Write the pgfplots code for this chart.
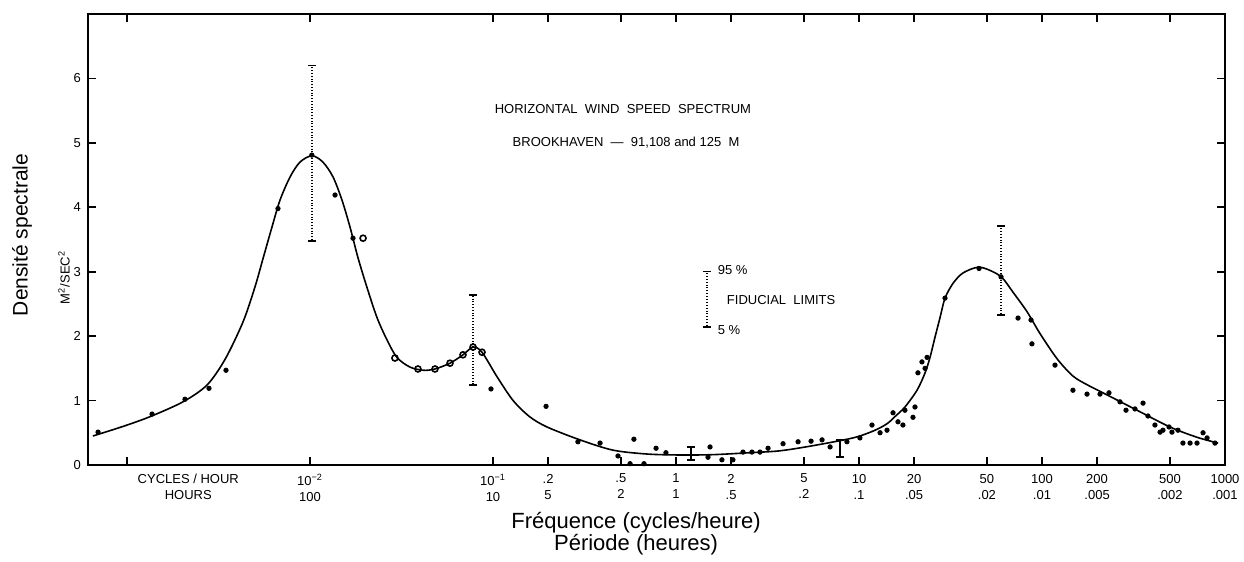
\documentclass[border=0pt]{standalone}
\usepackage{fontspec}
\setmainfont{Liberation Sans}
\usepackage{pgfplots}
\pgfplotsset{compat=1.18}

% x is log10 of the frequency in cycles/hour
\begin{document}
\begin{tikzpicture}
\begin{axis}[
  name=main,
  scale only axis, width=568.5pt, height=225.5pt,
  xmin=-3.213, xmax=3.0, ymin=0, ymax=7,
  axis line style={line width=1.1pt},
  tick style={black, line width=0.8pt},
  tick align=inside, major tick length=4pt,
  xtick={-3,-2,-1,-0.699,-0.301,0,0.301,0.699,1,1.301,1.699,2,2.301,2.699,3},
  xticklabels={{},{10\textsuperscript{−2}\\100},{10\textsuperscript{−1}\\10},{.2\\5},{.5\\2},{1\\1},{2\\.5},{5\\.2},{10\\.1},{20\\.05},{50\\.02},{100\\.01},{200\\.005},{500\\.002},{1000\\.001}},
  xticklabel style={align=center, font=\fontsize{6.5}{8}\selectfont, yshift=-1pt},
  extra x ticks={-2.665},
  extra x tick labels={{CYCLES / HOUR\\HOURS}},
  extra x tick style={major tick length=0pt},
  ytick={0,...,6},
  yticklabel style={font=\fontsize{6.5}{7.5}\selectfont},
  /pgf/number format/assume math mode=true,
  clip=false,
]

% fitted curve
\addplot[black, line width=0.8pt, smooth, tension=0.5] coordinates {
  (-3.186,0.45) (-3.02,0.60) (-2.874,0.75) (-2.694,0.98) (-2.563,1.24)
  (-2.464,1.64) (-2.366,2.22) (-2.301,2.76) (-2.257,3.20) (-2.208,3.69)
  (-2.164,4.11) (-2.109,4.47) (-2.055,4.70) (-1.989,4.80) (-1.929,4.70)
  (-1.874,4.47) (-1.825,4.11) (-1.781,3.69) (-1.738,3.22) (-1.689,2.76)
  (-1.634,2.29) (-1.579,1.94) (-1.525,1.67) (-1.454,1.52) (-1.38,1.47)
  (-1.317,1.49) (-1.235,1.58) (-1.164,1.71) (-1.109,1.83) (-1.06,1.75)
  (-0.978,1.37) (-0.89,1.00) (-0.80,0.75) (-0.705,0.59) (-0.525,0.39)
  (-0.344,0.23) (-0.158,0.17) (0.02,0.155) (0.2,0.16) (0.40,0.19)
  (0.568,0.22) (0.749,0.30) (0.967,0.42) (1.08,0.53) (1.153,0.64)
  (1.20,0.76) (1.251,0.90) (1.317,1.16) (1.361,1.43) (1.388,1.67)
  (1.415,1.98) (1.443,2.29) (1.470,2.59) (1.514,2.82) (1.568,2.98)
  (1.650,3.07) (1.716,3.02) (1.781,2.91) (1.842,2.68) (1.918,2.38)
  (1.989,2.04) (2.082,1.65) (2.169,1.38) (2.25,1.24) (2.333,1.12)
  (2.519,0.85) (2.699,0.59) (2.847,0.43) (2.962,0.34)
};

% measured points
\addplot[only marks, mark=*, mark size=1.1pt, black] coordinates {
  (-3.158,0.51) (-2.863,0.79) (-2.683,1.02) (-2.552,1.19) (-2.459,1.47)
  (-2.175,3.98) (-1.990,4.81) (-1.863,4.19) (-1.765,3.52)
  (-1.011,1.18) (-0.710,0.91) (-0.536,0.36) (-0.415,0.34) (-0.317,0.14)
  (-0.251,0.02) (-0.230,0.40) (-0.175,0.02) (-0.109,0.26) (-0.055,0.19)
  (0.175,0.12) (0.186,0.28) (0.251,0.08) (0.311,0.08) (0.366,0.20)
  (0.415,0.20) (0.459,0.20) (0.503,0.26) (0.585,0.33) (0.667,0.36)
  (0.738,0.37) (0.798,0.39) (0.842,0.28) (0.934,0.36) (1.005,0.42)
  (1.071,0.62) (1.115,0.50) (1.153,0.54) (1.186,0.81) (1.213,0.67)
  (1.240,0.62) (1.251,0.85) (1.295,0.74) (1.306,0.90) (1.322,1.43)
  (1.344,1.60) (1.361,1.50) (1.372,1.67) (1.470,2.59) (1.656,3.05)
  (1.776,2.92) (1.869,2.28) (1.940,2.25) (1.945,1.88) (2.071,1.55)
  (2.169,1.16) (2.246,1.10) (2.317,1.10) (2.366,1.12) (2.426,0.98)
  (2.459,0.85) (2.508,0.87) (2.552,0.96) (2.579,0.76) (2.617,0.62)
  (2.645,0.51) (2.661,0.54) (2.694,0.59) (2.710,0.51) (2.743,0.54)
  (2.770,0.34) (2.809,0.34) (2.847,0.34) (2.880,0.50) (2.902,0.42)
  (2.945,0.34)
};
\addplot[only marks, mark=o, mark size=1.5pt, black, thick] coordinates {
  (-1.710,3.52) (-1.536,1.66) (-1.41,1.49) (-1.317,1.49) (-1.235,1.58)
  (-1.164,1.71) (-1.109,1.83) (-1.06,1.75)
};

% 95 % / 5 % fiducial limits
\addplot[draw=none, mark=none,
  error bars/.cd, y dir=both, y explicit,
  error bar style={draw=black, densely dotted, line width=0.8pt},
  error mark options={draw=black, solid, rotate=90, line width=0.8pt, mark size=2pt}] coordinates {
  (-1.99,4.81) += (0,1.39) -= (0,1.33)
  (-1.109,1.83) += (0,0.81) -= (0,0.59)
  (1.776,2.92) += (0,0.79) -= (0,0.59)
  (0.169,2.57) +- (0,0.43)
};
\addplot[draw=none, mark=none,
  error bars/.cd, y dir=both, y explicit,
  error bar style={draw=black, solid, line width=0.8pt},
  error mark options={draw=black, solid, rotate=90, line width=0.8pt, mark size=2pt}] coordinates {
  (0.082,0.18) += (0,0.10) -= (0,0.10)
  (0.896,0.26) += (0,0.13) -= (0,0.14)
};

\node[font=\fontsize{6.5}{7.5}\selectfont, anchor=west] at (axis cs:0.19,3.03) {95 \%};
\node[font=\fontsize{6.5}{7.5}\selectfont, anchor=west] at (axis cs:0.19,2.10) {5 \%};
\node[font=\fontsize{6.5}{7.5}\selectfont, anchor=west] at (axis cs:0.24,2.56) {FIDUCIAL\ \ LIMITS};

\node[font=\fontsize{6.5}{7.5}\selectfont] at (axis cs:-0.290,5.53) {HORIZONTAL\ \ WIND\ \ SPEED\ \ SPECTRUM};
\node[font=\fontsize{6.5}{7.5}\selectfont] at (axis cs:-0.273,5.01) {BROOKHAVEN\ \ —\ \ 91,108 and 125\ \ M};

\node[font=\fontsize{6.5}{7.5}\selectfont, rotate=90] at ([xshift=-12pt]axis cs:-3.213,2.91) {M\textsuperscript{2}/SEC\textsuperscript{2}};
\node[font=\fontsize{10.5}{12}\selectfont, rotate=90] at ([xshift=-33pt]rel axis cs:0,0.51) {Densité spectrale};
\node[font=\fontsize{11}{11}\selectfont, align=center] at ([yshift=-34.5pt]rel axis cs:0.482,0) {Fréquence (cycles/heure)\\Période (heures)};
\end{axis}
\pgfresetboundingbox
\path (main.south west) +(-44pt,-48.5pt) (main.north east) +(9.5pt,7pt);
\end{tikzpicture}
\end{document}
